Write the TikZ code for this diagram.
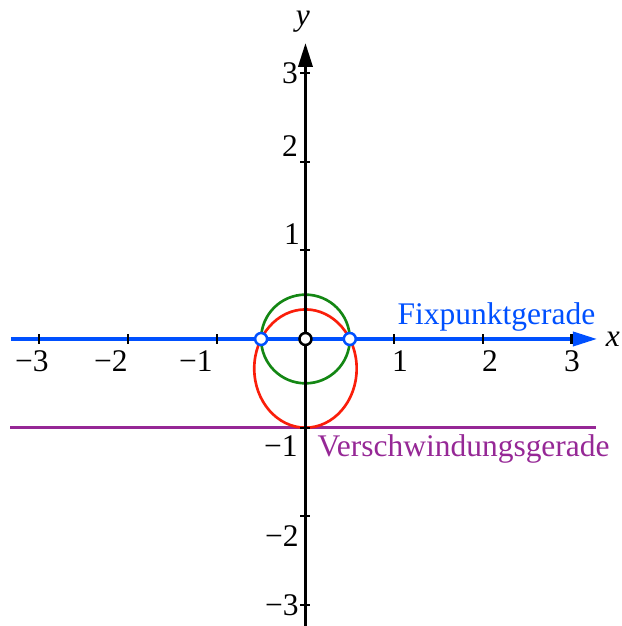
\documentclass[tikz,border=0pt]{standalone}
\usepackage{fontspec}
\setmainfont{Liberation Serif}
\usetikzlibrary{arrows.meta}
\definecolor{fixblue}{RGB}{0,80,255}
\definecolor{vpurple}{RGB}{150,40,150}
\definecolor{cgreen}{RGB}{20,135,20}
\definecolor{cred}{RGB}{250,30,10}
\begin{document}
\begin{tikzpicture}[x=1cm,y=1cm,
  lbl/.style={anchor=base,inner sep=0pt,font=\fontsize{10.1}{12}\selectfont},
  axisline/.style={line width=1pt},
  tickmark/.style={line width=0.7pt,black},
  tip/.style={-{Triangle[length=0.27cm,width=0.16cm]}},
  openpt/.style={circle,draw,fill=white,line width=0.8pt,minimum size=0.135cm,inner sep=0pt}]
\useasboundingbox (-3.444,-3.236) rectangle (3.568,3.822);
% vanishing line
\coordinate (vl) at (-3.33,-1);
\coordinate (vr) at (3.275,-1);
\draw[vpurple,line width=1pt] (vl) -- (vr);
% curves
\draw[cgreen,line width=0.85pt] (0,0) circle[radius=0.5];
\draw[cred,line width=0.85pt] (0,-0.33333) ellipse[x radius=0.57735,y radius=0.66667];
% x axis (fixed point line)
\coordinate (xl) at (-3.32,0);
\coordinate (xr) at (3.286,0);
\draw[fixblue,axisline,tip] (xl) -- (xr);
% y axis
\coordinate (yb) at (0,-3.3);
\coordinate (yt) at (0,3.337);
\draw[black,axisline,tip] (yb) -- (yt);
% ticks
\foreach \t in {-3,-2,-1,1,2,3}{
  \draw[tickmark] (\t,-0.056) -- (\t,0.056);
  \draw[tickmark] (-0.056,\t) -- (0.056,\t);
}
% x labels
\node[lbl] (lxm3) at (-3.084,-0.361) {−3};
\node[lbl] (lxm2) at (-2.193,-0.361) {−2};
\node[lbl] (lxm1) at (-1.235,-0.361) {−1};
\node[lbl] (lx1) at (1.065,-0.361) {1};
\node[lbl] (lx2) at (2.080,-0.361) {2};
\node[lbl] (lx3) at (3.004,-0.361) {3};
% y labels
\node[lbl] (ly3) at (-0.175,2.886) {3};
\node[lbl] (ly2) at (-0.175,2.052) {2};
\node[lbl] (ly1) at (-0.152,1.060) {1};
\node[lbl] (lym1) at (-0.276,-1.330) {−1};
\node[lbl] (lym2) at (-0.265,-2.345) {−2};
\node[lbl] (lym3) at (-0.265,-3.112) {−3};
% axis names
\node[lbl] (xname) at (3.467,-0.090) {\itshape x};
\node[lbl] (yname) at (-0.028,3.529) {\itshape y};
% line names
\node[lbl,anchor=base west,text=fixblue] (fix) at (1.032,0.158) {Fixpunktgerade};
\node[lbl,anchor=base west,text=vpurple] (ver) at (0.130,-1.330) {Verschwindungsgerade};
% points
\node[openpt,draw=fixblue] (p1) at (-0.5,0) {};
\node[openpt,draw=fixblue] (p2) at (0.5,0) {};
\node[openpt,draw=black] (o) at (0,0) {};
\end{tikzpicture}
\end{document}
